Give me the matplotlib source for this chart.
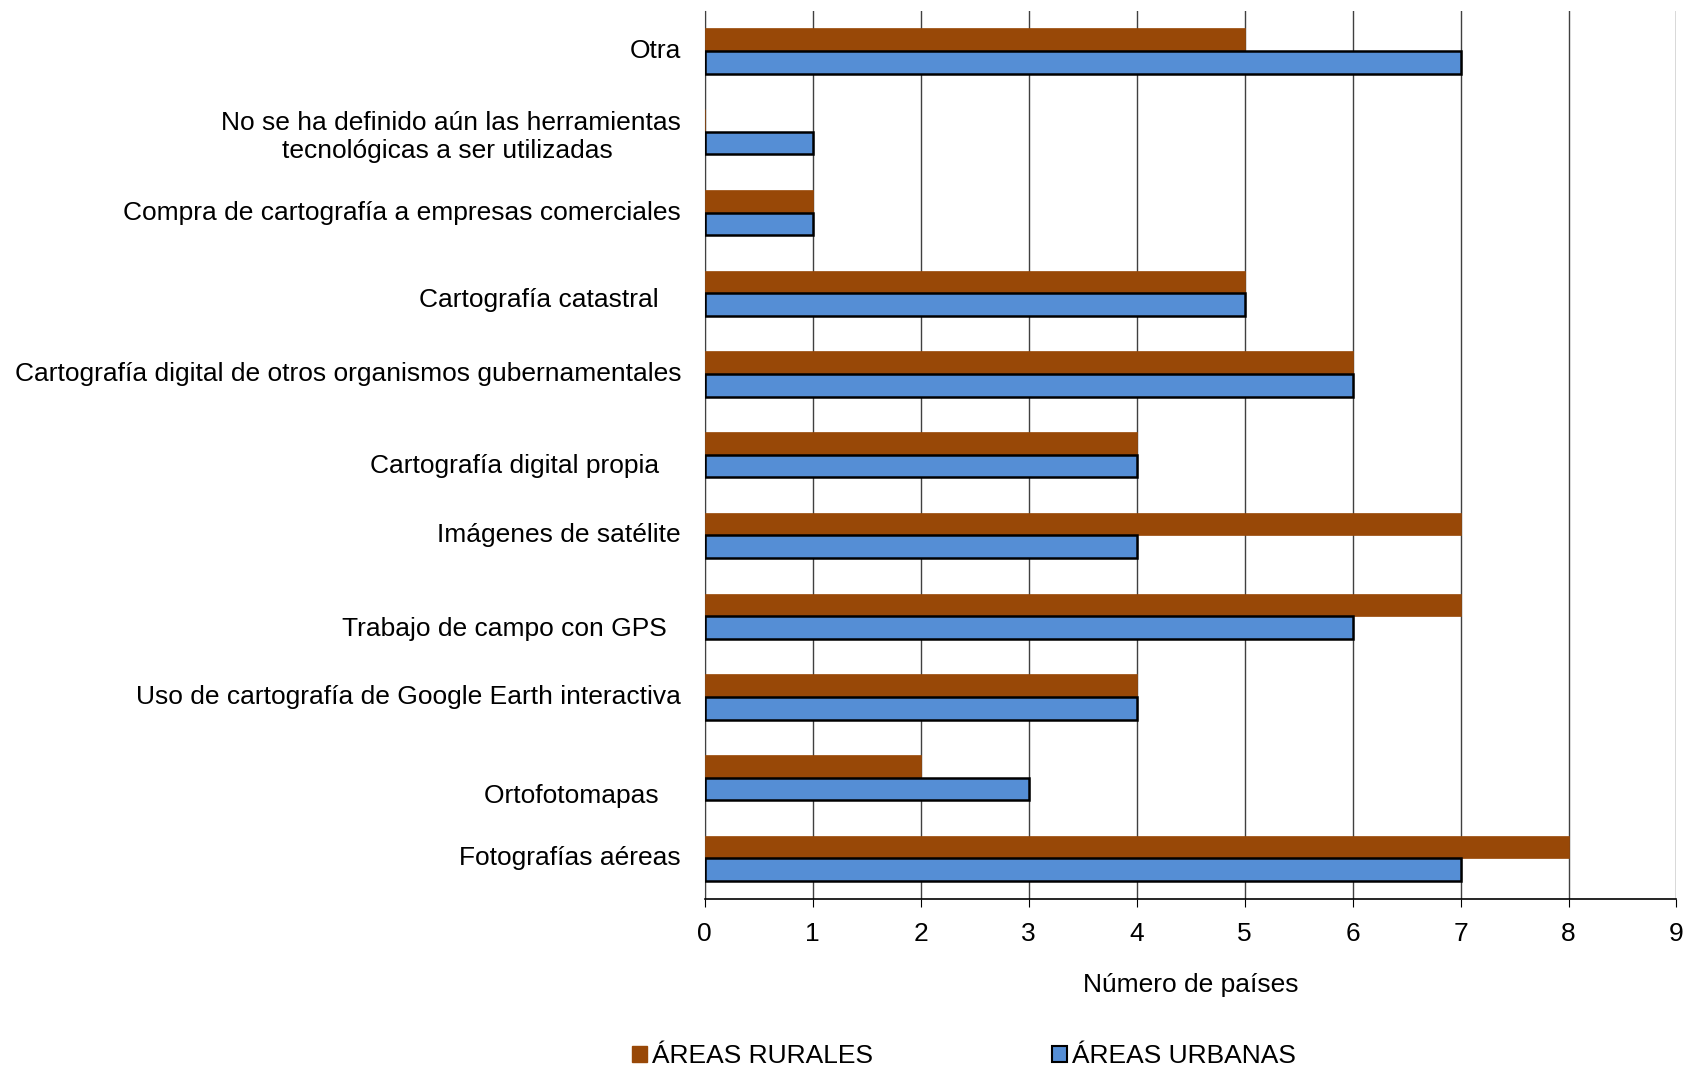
import matplotlib
matplotlib.use("Agg")
import matplotlib.pyplot as plt
import matplotlib.transforms as mtransforms
import numpy as np
from matplotlib.patches import Patch

plt.rcParams['font.family'] = ['Liberation Sans', 'DejaVu Sans']

# categorias de abajo hacia arriba
categorias = [
    "Fotografías aéreas",
    "Ortofotomapas   ",
    "Uso de cartografía de Google Earth interactiva",
    "Trabajo de campo con GPS  ",
    "Imágenes de satélite",
    "Cartografía digital propia   ",
    "Cartografía digital de otros organismos gubernamentales",
    "Cartografía catastral   ",
    "Compra de cartografía a empresas comerciales",
    "No se ha definido aún las herramientas\ntecnológicas a ser utilizadas ",
    "Otra",
]
rurales = [8, 2, 4, 7, 7, 4, 6, 5, 1, 0, 5]
urbanas = [7, 3, 4, 6, 4, 4, 6, 5, 1, 1, 7]
xticks = list(range(0, 10))

# desplazamiento vertical de algunas etiquetas (puntos, hacia abajo)
desplaz = [0, 13, 0, 9, 0, 8, 0, 5, 0, 4, 0]

col_rural = '#984807'
col_urbana = '#558ED5'
fs = 19

fig = plt.figure(figsize=(16.9, 10.7), dpi=100)
ax = fig.add_axes([0.417, 0.16, 0.575, 0.83])

y = np.arange(len(categorias))
h = 0.28
ax.barh(y + h/2, rurales, height=h, color=col_rural, edgecolor=col_rural, linewidth=0.5, zorder=3)
ax.barh(y - h/2, urbanas, height=h, color=col_urbana, edgecolor='black', linewidth=1.8, zorder=3)

ax.set_ylim(-0.5, len(categorias) - 0.5)
ax.set_xlim(0, 9)
ax.set_xticks(xticks)
ax.set_xticklabels([str(t) for t in xticks])
ax.set_yticks(y)
ax.set_yticklabels([])

# etiquetas de categorias como texto
for yi, lab, d in zip(y, categorias, desplaz):
    off = mtransforms.ScaledTranslation(-17 / 72, -d / 72, fig.dpi_scale_trans)
    ax.text(0, yi, lab, transform=ax.get_yaxis_transform() + off,
            ha='right', va='center', multialignment='center', fontsize=fs)

ax.grid(axis='x', color='#404040', linewidth=1.0, zorder=0)
ax.set_axisbelow(True)
for s in ['top', 'right']:
    ax.spines[s].set_visible(False)
ax.spines['left'].set_color('#404040')
ax.spines['bottom'].set_color('black')
ax.spines['bottom'].set_linewidth(1.2)

ax.tick_params(axis='x', length=6, direction='out', pad=11, labelsize=fs, color='black')
ax.tick_params(axis='y', length=0)

ax.set_xlabel("Número de países", fontsize=fs, labelpad=19)

handles = [Patch(facecolor=col_rural, edgecolor=col_rural),
           Patch(facecolor=col_urbana, edgecolor='black', linewidth=1.5)]
fig.legend(handles, ["ÁREAS RURALES", "ÁREAS URBANAS"], loc='center',
           bbox_to_anchor=(0.5705, 0.013), ncol=2, frameon=False, fontsize=fs,
           handlelength=0.55, handleheight=0.55, handletextpad=0.2, columnspacing=6.8)

fig.savefig("out.png", dpi=100)
